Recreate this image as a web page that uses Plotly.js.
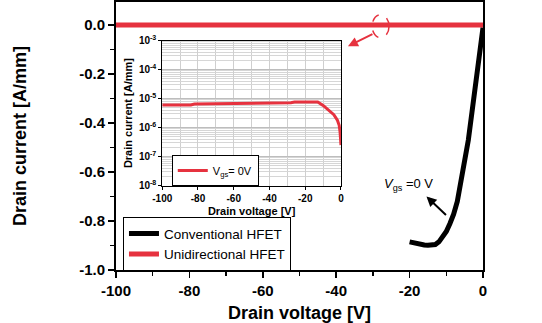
<!DOCTYPE html>
<html><head><meta charset="utf-8">
<script src="https://cdn.plot.ly/plotly-3.0.1.min.js"></script>
<style>html,body{margin:0;padding:0;background:#fff;}#chart{width:542px;height:323px;}</style>
</head><body><div id="chart"></div>
<script>
// Main plot: conventional HFET (black)
const convV = [-20, -19, -18, -17, -16, -15, -14, -13, -12, -11, -10, -9, -8, -7, -6, -5, -4, -3, -2, -1, -0.5, 0];
const convI = [-0.885, -0.889, -0.893, -0.896, -0.898, -0.899, -0.899, -0.896, -0.885, -0.866, -0.843, -0.81, -0.772, -0.72, -0.645, -0.565, -0.47, -0.355, -0.245, -0.14, -0.08, -0.01];
// Main plot: unidirectional HFET (red)
const uniV = [-100, -80, -60, -40, -20, 0];
const uniI = [0, 0, 0, 0, 0, 0];
// Inset (log scale) unidirectional HFET
const insetV = [-100, -84, -82, -50, -48, -28, -26, -13, -10, -8, -6, -4, -2, -1, -0.5, 0];
const insetI = [6.0e-6, 6.0e-6, 6.5e-6, 6.7e-6, 7.0e-6, 7.2e-6, 7.6e-6, 7.7e-6, 5.8e-6, 4.5e-6, 3.5e-6, 2.8e-6, 1.8e-6, 1.2e-6, 7e-7, 2.5e-7];
// Tick labels
const mainXTicks = [-100, -80, -60, -40, -20, 0];
const mainXText = ['-100', '-80', '-60', '-40', '-20', '0'];
const mainYTicks = [-1.0, -0.8, -0.6, -0.4, -0.2, 0.0];
const mainYText = ['-1.0', '-0.8', '-0.6', '-0.4', '-0.2', '0.0'];
const insetXText = ['-100', '-80', '-60', '-40', '-20', '0'];
const insetYTicks = [1e-8, 1e-7, 1e-6, 1e-5, 1e-4, 1e-3];
const insetYText = ['10<sup>-8</sup>', '10<sup>-7</sup>', '10<sup>-6</sup>', '10<sup>-5</sup>', '10<sup>-4</sup>', '10<sup>-3</sup>'];

const RED = '#e6323f';
const FONT = 'Liberation Sans, Arial, sans-serif';
const bold = a => a.map(s => '<b>' + s + '</b>');

const traces = [
  {x: convV, y: convI, type: 'scatter', mode: 'lines', name: 'Conventional HFET',
   line: {color: '#000', width: 5}, xaxis: 'x', yaxis: 'y'},
  {x: uniV, y: uniI, type: 'scatter', mode: 'lines', name: 'Unidirectional HFET',
   line: {color: RED, width: 5}, xaxis: 'x', yaxis: 'y'},
  {x: insetV, y: insetI, type: 'scatter', mode: 'lines', name: 'V<sub>gs</sub>= 0V',
   line: {color: RED, width: 3}, xaxis: 'x2', yaxis: 'y2', legend: 'legend2'}
];

const layout = {
  width: 542, height: 323,
  margin: {l: 116, r: 59, t: 2, b: 53},
  paper_bgcolor: '#fff', plot_bgcolor: '#fff',
  font: {family: FONT, color: '#000'},
  showlegend: true,
  xaxis: {
    range: [-100, 0], tickvals: mainXTicks, ticktext: bold(mainXText),
    ticks: 'outside', ticklen: 6, tickwidth: 1.5, tickcolor: '#000',
    minor: {dtick: 10, ticks: 'outside', ticklen: 4, tickwidth: 1.5, tickcolor: '#000'},
    showline: true, linecolor: '#000', linewidth: 2, mirror: true,
    showgrid: false, zeroline: false,
    tickfont: {family: FONT, size: 15},
    title: {text: '<b>Drain voltage [V]</b>', font: {family: FONT, size: 18}, standoff: 8},
    domain: [0, 1]
  },
  yaxis: {
    range: [-1.0, 0.094], tickvals: mainYTicks, ticktext: bold(mainYText),
    ticks: 'outside', ticklen: 6, tickwidth: 1.5, tickcolor: '#000',
    minor: {dtick: 0.1, tick0: 0, ticks: 'outside', ticklen: 4, tickwidth: 1.5, tickcolor: '#000'},
    showline: true, linecolor: '#000', linewidth: 2, mirror: true,
    showgrid: false, zeroline: false,
    tickfont: {family: FONT, size: 15},
    title: {text: '<b>Drain current [A/mm]</b>', font: {family: FONT, size: 18}, standoff: 48},
    domain: [0, 1]
  },
  xaxis2: {
    anchor: 'y2', domain: [0.126, 0.613],
    range: [-100, 0], tickvals: mainXTicks, ticktext: bold(insetXText),
    ticks: 'outside', ticklen: 3, tickcolor: '#000',
    showline: true, linecolor: '#000', linewidth: 1, mirror: true,
    showgrid: true, gridcolor: '#cfcfcf', gridwidth: 1,
    minor: {dtick: 10, showgrid: true, gridcolor: '#cfcfcf'},
    zeroline: false,
    tickfont: {family: FONT, size: 10},
    title: {text: '<b>Drain voltage [V]</b>', font: {family: FONT, size: 11}, standoff: 4}
  },
  yaxis2: {
    anchor: 'x2', domain: [0.315, 0.856], type: 'log',
    range: [-8, -3], tickvals: insetYTicks, ticktext: bold(insetYText),
    ticks: 'outside', ticklen: 3, tickcolor: '#000',
    showline: true, linecolor: '#000', linewidth: 1, mirror: true,
    showgrid: true, gridcolor: '#bdbdbd', gridwidth: 1,
    minor: {dtick: 'D1', showgrid: true, gridcolor: '#d6d6d6', ticks: ''},
    zeroline: false,
    tickfont: {family: FONT, size: 10},
    title: {text: '<b>Drain current [A/mm]</b>', font: {family: FONT, size: 11}, standoff: 4}
  },
  legend: {
    x: 0.019, y: 0.197, xanchor: 'left', yanchor: 'top',
    bgcolor: '#fff', bordercolor: '#000', borderwidth: 1,
    font: {family: FONT, size: 13.5}, tracegroupgap: 0, itemwidth: 30
  },
  legend2: {
    x: 0.152, y: 0.429, xanchor: 'left', yanchor: 'top',
    bgcolor: '#fff', bordercolor: '#000', borderwidth: 1,
    font: {family: FONT, size: 11}, itemwidth: 30
  },
  shapes: [
    {type: 'circle', xref: 'x', yref: 'y', x0: -30.2, x1: -25.6, y0: -0.052, y1: 0.042,
     line: {color: RED, width: 1.5, dash: 'dash'}}
  ],
  annotations: [
    {x: -36.8, y: -0.087, xref: 'x', yref: 'y', ax: 26, ay: -13, text: '',
     showarrow: true, arrowhead: 2, arrowsize: 1, arrowwidth: 2, arrowcolor: RED},
    {x: -15.4, y: -0.70, xref: 'x', yref: 'y', ax: 21, ay: 20, text: '',
     showarrow: true, arrowhead: 2, arrowsize: 1, arrowwidth: 2, arrowcolor: '#000'},
    {x: -20.3, y: -0.652, xref: 'x', yref: 'y', showarrow: false,
     text: '<i>V</i><sub>gs</sub> =0 V', font: {family: FONT, size: 13, color: '#000'}}
  ]
};

Plotly.newPlot('chart', traces, layout, {displayModeBar: false, staticPlot: true});
</script>
</body></html>
